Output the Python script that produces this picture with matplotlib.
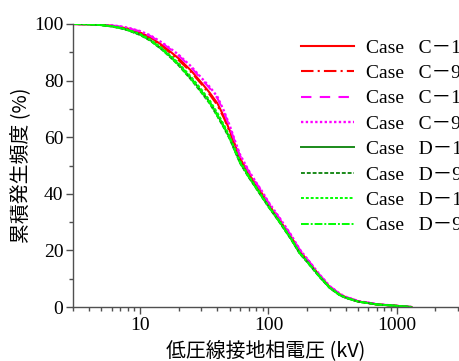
import numpy as np
import matplotlib.pyplot as plt
from matplotlib.ticker import MultipleLocator, FixedLocator, FixedFormatter

plt.rcParams['font.family'] = ['Liberation Serif', 'Noto Sans CJK JP']

# 電圧 (kV)
volt = [3, 4, 5, 6, 7, 8, 10, 12, 15, 18, 20, 25, 30, 35, 40, 45, 50, 55, 60,
        70, 80, 90, 100, 120, 150, 175, 200, 250, 300, 360, 400, 500, 700, 1000, 1300]

# 累積発生頻度 (%)
c1 = [100, 99.9, 99.7, 99.4, 98.9, 98.4, 97.0, 95.3, 92.4, 89.5, 87.8, 83.5, 79.3, 75.6, 72.0,
      67.3, 62.3, 57.2, 52.6, 47.2, 43.2, 39.8, 36.3, 31.2, 24.8, 19.8, 16.6, 11.1, 7.1, 4.5,
      3.4, 2.0, 0.9, 0.4, 0]
c9 = [100, 99.9, 99.7, 99.3, 98.8, 98.2, 96.8, 95.0, 92.0, 89.0, 87.2, 83.0, 78.8, 75.0, 71.3,
      66.8, 61.8, 56.8, 52.2, 46.9, 43.0, 39.6, 36.1, 31.0, 24.6, 19.6, 16.4, 11.0, 7.0, 4.4,
      3.4, 2.0, 0.9, 0.4, 0]
c1b = [100, 99.9, 99.8, 99.5, 99.1, 98.6, 97.4, 95.8, 93.1, 90.4, 88.8, 84.6, 80.6, 77.2, 73.8,
       68.8, 63.6, 58.2, 53.5, 48.0, 43.9, 40.4, 36.9, 31.8, 25.3, 20.3, 17.0, 11.4, 7.4, 4.6,
       3.6, 2.1, 1.0, 0.4, 0]
c9b = [100, 99.9, 99.8, 99.5, 99.2, 98.7, 97.5, 96.0, 93.3, 90.7, 89.1, 85.0, 81.0, 77.7, 74.3,
       69.3, 64.0, 58.6, 53.9, 48.3, 44.1, 40.6, 37.1, 32.0, 25.5, 20.4, 17.1, 11.5, 7.4, 4.7,
       3.6, 2.1, 1.0, 0.4, 0]
d1 = [100, 99.9, 99.6, 99.2, 98.6, 97.9, 96.3, 94.3, 91.0, 87.7, 85.7, 80.8, 76.3, 72.3, 67.9,
      63.8, 59.7, 55.2, 51.2, 46.2, 42.2, 38.7, 35.6, 30.6, 24.1, 19.1, 16.1, 10.8, 6.8, 4.2,
      3.3, 1.9, 0.9, 0.4, 0]
d9 = [100, 99.9, 99.6, 99.1, 98.5, 97.8, 96.1, 94.1, 90.7, 87.4, 85.3, 80.3, 75.8, 71.8, 67.4,
      63.3, 59.3, 54.9, 50.9, 45.9, 42.0, 38.5, 35.4, 30.4, 23.9, 18.9, 15.9, 10.6, 6.7, 4.1,
      3.2, 1.9, 0.9, 0.4, 0]
d1b = [100, 99.9, 99.6, 99.2, 98.7, 98.0, 96.5, 94.6, 91.3, 88.1, 86.1, 81.3, 76.9, 72.9, 68.6,
       64.4, 60.2, 55.7, 51.6, 46.5, 42.5, 39.0, 35.8, 30.8, 24.3, 19.3, 16.2, 10.9, 6.9, 4.3,
       3.3, 1.9, 0.9, 0.4, 0]
d9b = [100, 99.9, 99.6, 99.2, 98.6, 97.9, 96.2, 94.2, 90.8, 87.5, 85.5, 80.5, 76.0, 72.0, 67.6,
       63.5, 59.5, 55.0, 51.0, 46.0, 42.1, 38.6, 35.5, 30.5, 24.0, 19.0, 16.0, 10.7, 6.8, 4.2,
       3.3, 1.9, 0.9, 0.4, 0]

series = [c1, c9, c1b, c9b, d1, d9, d1b, d9b]
labels = ['Case   C－1', 'Case   C－9', 'Case   C－1', 'Case   C－9',
          'Case   D－1', 'Case   D－9', 'Case   D－1', 'Case   D－9']
colors = ['#ff0000', '#ff0000', '#ff00ff', '#ff00ff',
          '#1a8a1a', '#1a8a1a', '#00ff00', '#00ff00']
styles = ['-', (0, (6, 2, 1, 2)), (0, (5, 4)), (0, (1, 1)),
          '-', (0, (2, 1)), (0, (1.5, 1)), (0, (4, 1, 1, 1))]
widths = [1.5, 1.5, 1.5, 1.7, 1.4, 1.4, 1.4, 1.4]

fig = plt.figure(figsize=(4.59, 3.61), dpi=100)
ax = fig.add_axes([73 / 459, 1 - 307 / 361, (458 - 73) / 459, (307 - 24) / 361])

for y, lab, col, ls, lw in zip(series, labels, colors, styles, widths):
    ax.plot(volt, y, color=col, linestyle=ls, linewidth=lw, label=lab)

ax.set_xscale('log')
ax.set_xlim(3, 3000)
ax.set_ylim(0, 100)
ax.xaxis.set_major_locator(FixedLocator([10, 100, 1000]))
ax.xaxis.set_major_formatter(FixedFormatter(['10', '100', '1000']))
ax.yaxis.set_major_locator(MultipleLocator(20))
ax.yaxis.set_minor_locator(MultipleLocator(10))

for s in ['top', 'right']:
    ax.spines[s].set_visible(False)
for s in ['left', 'bottom']:
    ax.spines[s].set_color('#505050')
    ax.spines[s].set_linewidth(1.0)
ax.tick_params(which='major', direction='out', length=5, width=1, color='#505050',
               labelsize=14, pad=2)
ax.tick_params(which='minor', direction='out', length=3, width=1, color='#505050')

ax.set_xlabel('低圧線接地相電圧 (kV)', family='Noto Sans CJK JP', fontsize=14.3, labelpad=5)
ax.set_ylabel('累積発生頻度 (%)', family='Noto Sans CJK JP', fontsize=14.3, labelpad=1)

ax.legend(loc='upper left', bbox_to_anchor=(301 / 459, 1 - 39 / 361),
          bbox_transform=fig.transFigure, frameon=False, fontsize=14,
          handlelength=2.7, handletextpad=0.65, labelspacing=0.4, borderpad=0,
          borderaxespad=0)

fig.savefig('out.png', dpi=100)
